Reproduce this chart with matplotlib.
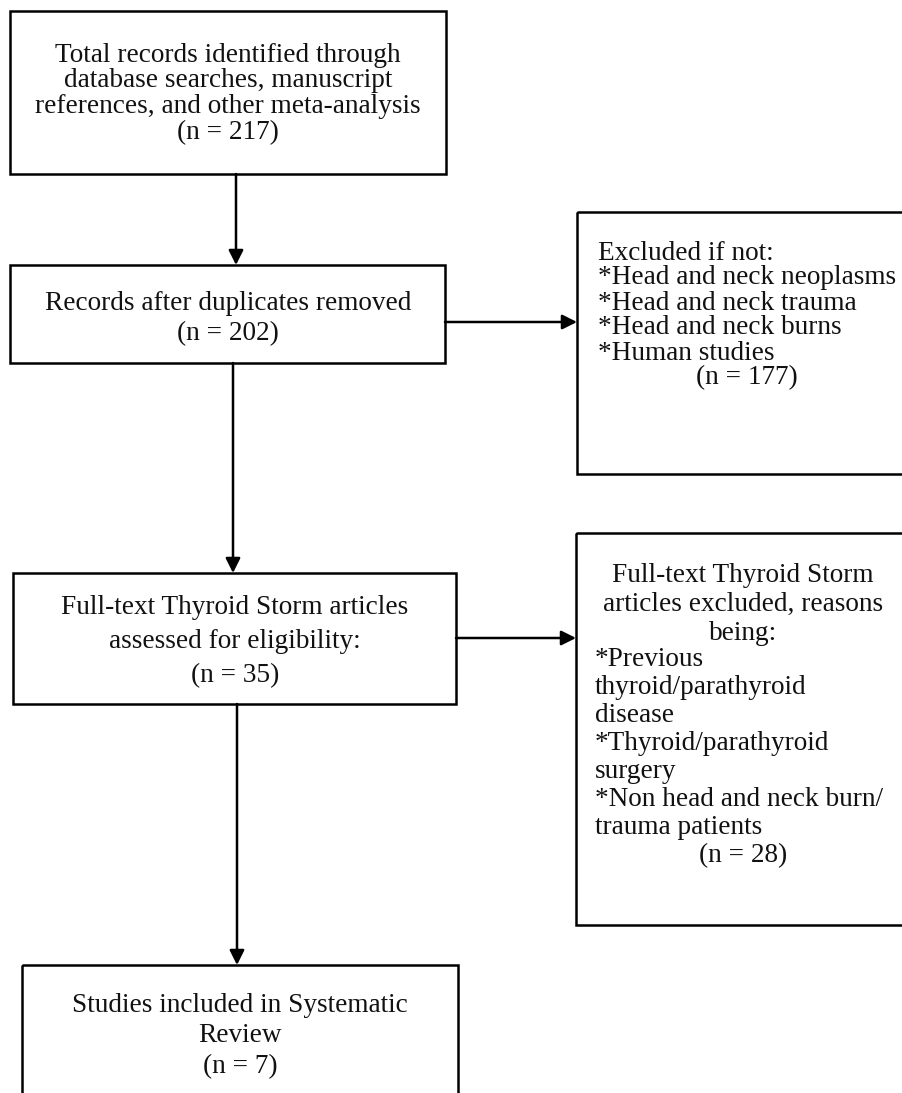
import matplotlib
matplotlib.use("Agg")
import matplotlib.pyplot as plt
from matplotlib.patches import Rectangle

# flow counts
counts = {"identified": 217, "deduped": 202, "excluded_screen": 177,
          "fulltext": 35, "excluded_fulltext": 28, "included": 7}

box1_lines = ["Total records identified through",
              "database searches, manuscript",
              "references, and other meta-analysis",
              "(n = %d)" % counts["identified"]]
box2_lines = ["Records after duplicates removed",
              "(n = %d)" % counts["deduped"]]
box3_list = ["Excluded if not:",
             "*Head and neck neoplasms",
             "*Head and neck trauma",
             "*Head and neck burns",
             "*Human studies"]
box3_n = "(n = %d)" % counts["excluded_screen"]
box4_lines = ["Full-text Thyroid Storm articles",
              "assessed for eligibility:",
              "(n = %d)" % counts["fulltext"]]
box6_head = ["Full-text Thyroid Storm",
             "articles excluded, reasons",
             "being:"]
box6_list = ["*Previous",
             "thyroid/parathyroid",
             "disease",
             "*Thyroid/parathyroid",
             "surgery",
             "*Non head and neck burn/",
             "trauma patients"]
box6_n = "(n = %d)" % counts["excluded_fulltext"]
box5_lines = ["Studies included in Systematic",
              "Review",
              "(n = %d)" % counts["included"]]

W, H = 903, 1093
fig = plt.figure(figsize=(W / 100, H / 100), dpi=100)
ax = fig.add_axes([0, 0, 1, 1])
ax.set_xlim(0, W)
ax.set_ylim(H, 0)
ax.axis("off")

FONT = dict(family="Liberation Serif", size=19.6, color="#111111")
LW = 1.8


def box(x0, y0, x1, y1):
    ax.add_patch(Rectangle((x0, y0), x1 - x0, y1 - y0, fill=False,
                           edgecolor="black", linewidth=LW, clip_on=False))


def lines(txt, x, y, step, ha="center"):
    for i, s in enumerate(txt):
        ax.text(x, y + i * step, s, ha=ha, va="center", **FONT)


def arrow(x0, y0, x1, y1):
    ax.annotate("", xy=(x1, y1), xytext=(x0, y0),
                arrowprops=dict(arrowstyle="-|>", color="black", lw=LW,
                                mutation_scale=22, shrinkA=0, shrinkB=0))


box(10, 11, 446, 174)
lines(box1_lines, 228, 55, 25.8)

box(10, 265, 445, 363)
lines(box2_lines, 228, 303, 31)

box(577, 212, 920, 474)
lines(box3_list, 598, 253, 25, ha="left")
ax.text(747, 378, box3_n, ha="center", va="center", **FONT)

box(13, 573, 456, 704)
lines(box4_lines, 235, 608, 34)

box(576, 533, 920, 925)
lines(box6_head, 743, 575, 29)
lines(box6_list, 595, 660, 28, ha="left")
ax.text(743, 856, box6_n, ha="center", va="center", **FONT)

box(22, 965, 458, 1120)
lines(box5_lines, 240, 1005, 31)

arrow(236, 174, 236, 265)
arrow(445, 322, 577, 322)
arrow(233, 363, 233, 573)
arrow(456, 638, 576, 638)
arrow(237, 704, 237, 965)

fig.savefig("out.png", dpi=100, facecolor="white")
